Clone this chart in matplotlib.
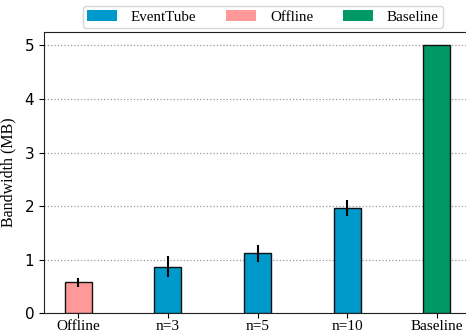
import matplotlib
matplotlib.use("Agg")
import matplotlib.pyplot as plt
from matplotlib.patches import Patch

categories = ["Offline", "n=3", "n=5", "n=10", "Baseline"]
bandwidth = [0.58, 0.87, 1.12, 1.97, 5.0]
errors = [0.08, 0.20, 0.16, 0.15, 0.0]
groups = ["Offline", "EventTube", "EventTube", "EventTube", "Baseline"]

colors = {"EventTube": "#0099cc", "Offline": "#ff9999", "Baseline": "#009966"}
legend_order = ["EventTube", "Offline", "Baseline"]

serif = ["Liberation Serif", "DejaVu Serif"]

fig = plt.figure(figsize=(4.66, 3.36), dpi=100)
ax = fig.add_axes([44 / 466, 1 - 313.3 / 336, (471 - 44) / 466, (313.3 - 32) / 336])

x = list(range(len(categories)))
ax.bar(x, bandwidth, width=0.3, color=[colors[g] for g in groups],
       edgecolor="#111111", linewidth=1.0, zorder=3)
ax.errorbar(x, bandwidth, yerr=errors, fmt="none", ecolor="black",
            elinewidth=1.5, capsize=0, zorder=4)

ax.set_xlim(-0.38, 4.38)
ax.set_ylim(0, 5.25)
ax.set_yticks([0, 1, 2, 3, 4, 5])
ax.set_xticks(x)
ax.set_xticklabels(categories, fontfamily=serif, fontsize=11)
ax.tick_params(axis="x", length=3.5, pad=1.5)
ax.tick_params(axis="y", labelsize=11)
ax.set_ylabel("Bandwidth (MB)", fontfamily=serif, fontsize=11.5, labelpad=6)
ax.yaxis.grid(True, linestyle=":", color="#999999", linewidth=0.9, zorder=0)
ax.set_axisbelow(True)
for side in ("top", "bottom", "left", "right"):
    ax.spines[side].set_color("#222222")

handles = [Patch(facecolor=colors[g], edgecolor="none", label=g) for g in legend_order]
fig.legend(handles=handles, loc="center", bbox_to_anchor=(263 / 466, 1 - 17 / 336),
           ncol=3, prop={"family": serif, "size": 10.8}, handlelength=2.0,
           handleheight=0.7, handletextpad=0.9, columnspacing=2.0,
           frameon=True, edgecolor="#cccccc", borderpad=0.3)

fig.savefig("out.png", dpi=100)
